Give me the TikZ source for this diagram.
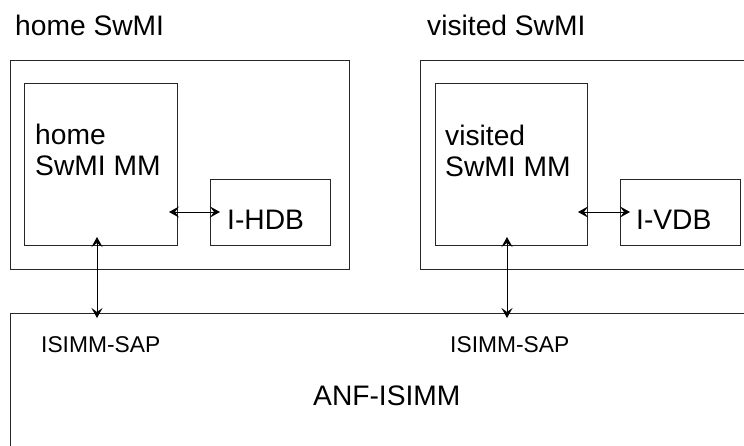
\documentclass[tikz,border=0pt]{standalone}
\usepackage{fontspec}
\setmainfont{Liberation Sans}
\usetikzlibrary{arrows.meta}
\begin{document}
\begin{tikzpicture}[x=1pt,y=-1pt,
  box/.style={draw=black!85, line width=1pt, rectangle, inner sep=0pt, outer sep=0pt, anchor=north west},
  big/.style={font=\fontsize{28.2}{31}\selectfont, inner sep=0pt, anchor=base west, align=left},
  small/.style={font=\fontsize{22.8}{26}\selectfont, inner sep=0pt, anchor=base west},
  link/.style={line width=1pt, {Stealth[length=10pt,width=11pt,inset=4pt]}-{Stealth[length=10pt,width=11pt,inset=4pt]}}]
\useasboundingbox (0,0) rectangle (744,445);
\clip (0,0) rectangle (744,445);
% titles
\node[big] (thome) at (15,35) {home SwMI};
\node[big] (tvis) at (427,35) {visited SwMI};
% home SwMI
\node[box, minimum width=339pt, minimum height=209pt] (homeouter) at (10,60) {};
\node[box, minimum width=153pt, minimum height=162pt] (homemm) at (24,83) {};
\node[box, minimum width=120pt, minimum height=66pt] (ihdb) at (210,179) {};
\node[big] (homemmtext) at (35,175) {home\\SwMI MM};
\node[big] (ihdbtext) at (227,229) {I-HDB};
% visited SwMI
\node[box, minimum width=400pt, minimum height=209pt] (visouter) at (420,60) {};
\node[box, minimum width=152pt, minimum height=162pt] (vismm) at (435,83) {};
\node[box, minimum width=120pt, minimum height=66pt] (ivdb) at (620,179) {};
\node[big] (vismmtext) at (445,176) {visited\\SwMI MM};
\node[big] (ivdbtext) at (636,229) {I-VDB};
% ANF-ISIMM
\node[box, minimum width=800pt, minimum height=200pt] (anf) at (10,313) {};
\node[small] (sap1) at (41,352) {ISIMM-SAP};
\node[small] (sap2) at (450,352) {ISIMM-SAP};
\node[big] (anftext) at (313,405) {ANF-ISIMM};
% connector end points
\coordinate (hmmA) at (169,212);
\coordinate (hdbA) at (220,212);
\coordinate (hmmB) at (97,237);
\coordinate (sapA) at (97,318);
\coordinate (vmmA) at (578,212);
\coordinate (vdbA) at (630,212);
\coordinate (vmmB) at (507,237);
\coordinate (sapB) at (507,318);
\draw[link] (hmmA) -- (hdbA);
\draw[link] (hmmB) -- (sapA);
\draw[link] (vmmA) -- (vdbA);
\draw[link] (vmmB) -- (sapB);
\end{tikzpicture}
\end{document}
